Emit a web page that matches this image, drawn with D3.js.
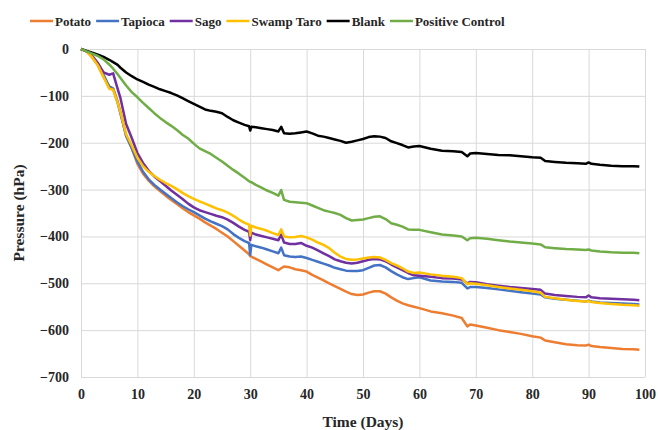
<!DOCTYPE html>
<html>
<head>
<meta charset="utf-8">
<script src="https://cdn.jsdelivr.net/npm/d3@7"></script>
<style>
  body { margin: 0; background: #fff; }
  svg { display: block; font-family: "Liberation Serif", "Times New Roman", serif; font-weight: bold; }
</style>
</head>
<body>
<div id="container"><svg></svg></div>
<script>
// pressure vs time
const days = [0, 1, 2, 3, 4, 5, 5.7, 6.5, 7, 8, 9, 10, 11, 12, 13, 14, 15, 16, 17, 18, 19, 20,
  21, 22, 23, 24, 25, 26, 27, 28, 29, 29.8, 30, 30.2, 31, 32, 33, 34, 35, 35.5, 36, 37, 38, 39, 40,
  41, 42, 43, 44, 45, 46, 47, 48, 49, 50, 51, 52, 53, 54, 55, 56, 57, 58, 59, 60, 62, 64, 66,
  67.5, 68.5, 69, 70, 72, 74, 76, 78, 80, 81.5, 82.3, 84, 86, 88, 89.5, 90, 90.5, 92, 94, 96, 98, 99]

const potato = [0, -5, -18, -35, -60, -80, -84, -112, -135, -185, -212, -245, -266, -281, -293, -303, -313, -322, -331, -340, -348, -355,
  -362, -370, -377, -384, -392, -400, -410, -420, -430, -438, -442, -443, -448, -454, -460, -466, -472, -468, -464, -466, -470, -472, -475,
  -482, -488, -494, -500, -506, -512, -518, -523, -525, -524, -520, -517, -517, -522, -530, -537, -543, -547, -550, -553, -560, -564, -569,
  -574, -592, -588, -590, -595, -600, -604, -608, -613, -616, -622, -626, -630, -632, -633, -631, -634, -636, -638, -640, -641, -642]

const tapioca = [0, -5, -16, -32, -55, -80, -85, -115, -138, -185, -212, -240, -262, -278, -290, -300, -309, -318, -327, -335, -342, -348,
  -355, -362, -368, -373, -378, -385, -395, -403, -410, -414, -440, -418, -421, -424, -428, -432, -436, -424, -440, -443, -444, -443, -446,
  -450, -454, -458, -462, -467, -470, -473, -474, -474, -472, -467, -462, -461, -466, -474, -481, -487, -491, -489, -487, -494, -496, -497,
  -499, -511, -508, -508, -510, -513, -516, -519, -522, -524, -530, -533, -535, -537, -539, -537, -539, -541, -542, -543, -544, -545]

const sago = [0, -5, -15, -30, -50, -55, -52, -85, -105, -160, -190, -222, -243, -260, -272, -282, -292, -302, -311, -320, -330, -338,
  -344, -348, -352, -356, -359, -364, -371, -379, -386, -390, -408, -392, -396, -399, -402, -405, -408, -396, -413, -416, -416, -414, -420,
  -424, -430, -436, -442, -449, -453, -456, -458, -456, -453, -450, -448, -449, -453, -460, -466, -472, -478, -483, -484, -486, -489, -490,
  -492, -500, -497, -498, -502, -505, -508, -510, -512, -514, -522, -525, -527, -529, -530, -526, -530, -532, -533, -534, -535, -536]

const swampTaro = [0, -5, -18, -35, -60, -85, -87, -115, -135, -182, -206, -232, -250, -262, -271, -279, -286, -292, -299, -307, -314, -320,
  -325, -330, -335, -340, -344, -349, -356, -364, -371, -375, -398, -377, -381, -384, -388, -393, -397, -385, -400, -402, -401, -399, -402,
  -407, -413, -418, -425, -435, -443, -448, -450, -449, -447, -445, -444, -445, -450, -457, -462, -468, -475, -478, -477, -481, -484, -486,
  -489, -502, -500, -501, -504, -508, -511, -514, -517, -520, -529, -532, -535, -538, -539, -538, -540, -542, -544, -546, -547, -548]

const blank = [0, -4, -8, -12, -17, -23, -28, -34, -40, -50, -58, -65, -70, -76, -81, -86, -90, -94, -99, -105, -111, -117,
  -123, -129, -132, -134, -137, -145, -152, -157, -162, -165, -174, -166, -167, -169, -171, -173, -176, -166, -180, -181, -180, -178, -176,
  -180, -185, -187, -190, -193, -196, -200, -198, -195, -192, -188, -186, -187, -190, -197, -201, -205, -210, -208, -207, -213, -217, -218,
  -220, -229, -223, -222, -224, -226, -227, -229, -231, -232, -239, -241, -243, -244, -245, -242, -245, -247, -249, -250, -250, -251]

const positiveControl = [0, -5, -10, -15, -22, -33, -42, -54, -62, -78, -92, -103, -115, -126, -137, -147, -156, -164, -173, -183, -191, -202,
  -212, -218, -224, -232, -240, -249, -258, -266, -275, -282, -284, -284, -290, -296, -302, -307, -313, -301, -322, -326, -327, -328, -329,
  -334, -339, -344, -347, -350, -354, -361, -366, -365, -364, -361, -358, -357, -363, -372, -375, -379, -385, -386, -386, -391, -396, -398,
  -400, -408, -404, -403, -405, -408, -411, -413, -415, -417, -423, -425, -427, -428, -429, -428, -430, -432, -434, -435, -435, -436]

const seriesNames = ["Potato", "Tapioca", "Sago", "Swamp Taro", "Blank", "Positive Control"]
const seriesValues = [potato, tapioca, sago, swampTaro, blank, positiveControl]
const seriesColors = ["#ED7D31", "#4472C4", "#7030A0", "#FFC000", "#000000", "#70AD47"]

const xTicks = [0, 10, 20, 30, 40, 50, 60, 70, 80, 90, 100]
const yTicks = [0, -100, -200, -300, -400, -500, -600, -700]


let svgWidth = 658
let svgHeight = 430
let margin = { left: 81, right: 13, top: 49, bottom: 53 }
let chartWidth = svgWidth - margin.left - margin.right
let chartHeight = svgHeight - margin.top - margin.bottom

const svg = d3.select("svg")
  .attr("width", svgWidth)
  .attr("height", svgHeight)

const g = svg.append("g")
  .attr("transform", `translate(${margin.left}, ${margin.top})`)

var x = d3.scaleLinear().domain([0, 100]).range([0, chartWidth])
var y = d3.scaleLinear().domain([-700, 0]).range([chartHeight, 0])

// gridlines + tick labels
var xAxis = g.append("g")
  .attr("transform", `translate(0, ${chartHeight})`)
  .call(d3.axisBottom(x).tickValues(xTicks).tickSize(-chartHeight).tickPadding(12))
var yAxis = g.append("g")
  .call(d3.axisLeft(y).tickValues(yTicks).tickSize(-chartWidth).tickPadding(12))

;[xAxis, yAxis].forEach(a => {
  a.select(".domain").remove()
  a.selectAll("line").attr("stroke", "#d9d9d9").attr("stroke-width", 1)
  a.selectAll("text")
    .attr("fill", "#262626")
    .style("font-family", "'Liberation Serif', serif")
    .style("font-weight", "bold")
    .style("font-size", "14px")
})

var line = d3.line()
  .x((d, i) => x(days[i]))
  .y(d => y(d))

g.append("g")
  .selectAll("path")
  .data(seriesValues)
  .enter()
  .append("path")
  .attr("fill", "none")
  .attr("stroke", (d, i) => seriesColors[i])
  .attr("stroke-width", 2.5)
  .attr("stroke-linejoin", "round")
  .attr("d", d => line(d))

// axis titles
svg.append("text")
  .attr("x", margin.left + chartWidth / 2)
  .attr("y", 427)
  .attr("text-anchor", "middle")
  .style("font-size", "15.5px")
  .attr("fill", "#262626")
  .text("Time (Days)")

svg.append("text")
  .attr("transform", `translate(24, ${margin.top + chartHeight / 2}) rotate(-90)`)
  .attr("text-anchor", "middle")
  .style("font-size", "15.5px")
  .attr("fill", "#262626")
  .text("Pressure (hPa)")

// legend
var legendX = 30
var legendY = 21
var legendLine = 23
seriesNames.forEach((name, i) => {
  var item = svg.append("g").attr("transform", `translate(${legendX}, ${legendY})`)
  item.append("line")
    .attr("x1", 0).attr("x2", legendLine)
    .attr("stroke", seriesColors[i])
    .attr("stroke-width", 2.5)
  var t = item.append("text")
    .attr("x", legendLine + 2)
    .attr("dy", "0.35em")
    .style("font-size", "13px")
    .attr("fill", "#262626")
    .text(name)
  legendX += legendLine + 2 + t.node().getComputedTextLength() + 5
})
</script>
</body>
</html>
